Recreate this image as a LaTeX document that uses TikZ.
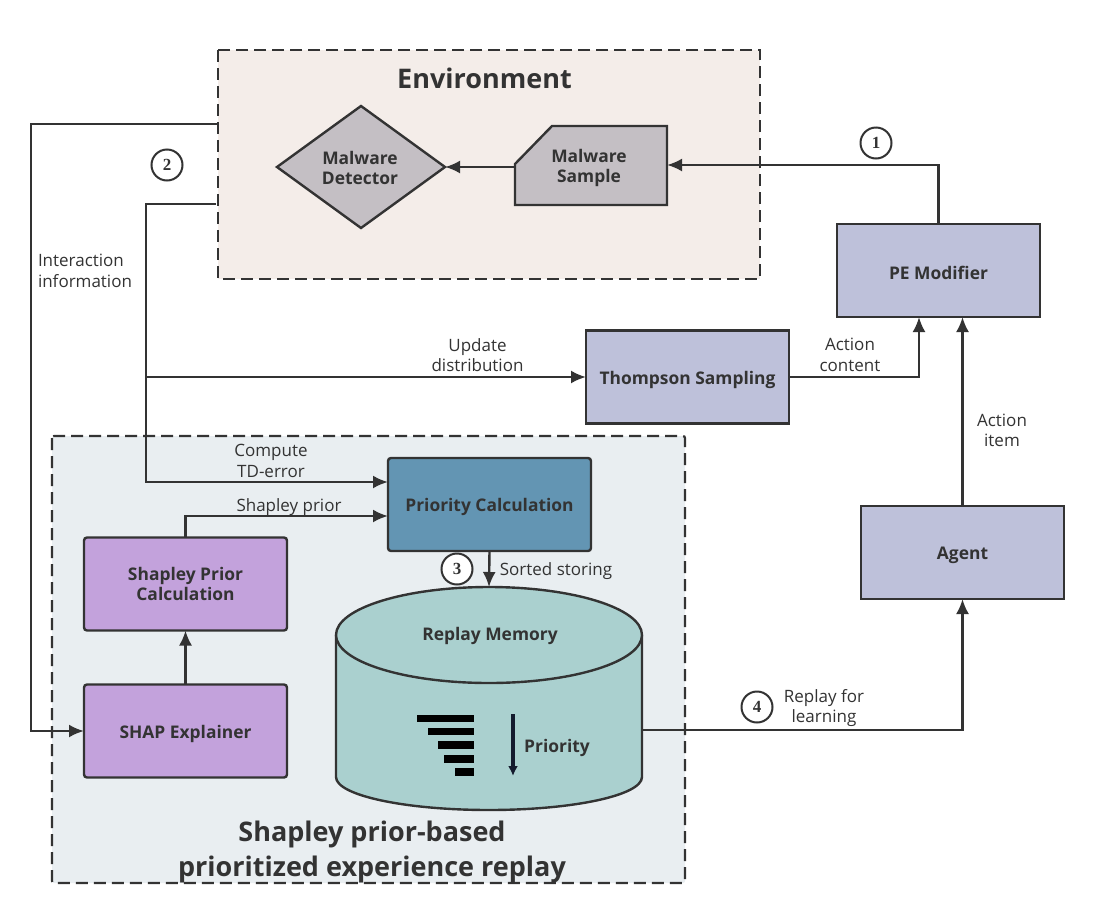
\documentclass[tikz,border=0pt]{standalone}
\usepackage{fontspec}
\setmainfont{Open Sans}
\newfontfamily\numfont{Liberation Serif}
\usetikzlibrary{arrows.meta,shapes.geometric,calc}
\definecolor{ink}{HTML}{333333}
\definecolor{envfill}{HTML}{F4EDE9}
\definecolor{repfill}{HTML}{E9EEF1}
\definecolor{greyfill}{HTML}{C4BFC4}
\definecolor{lavfill}{HTML}{BEC1DA}
\definecolor{prifill}{HTML}{6395B3}
\definecolor{purfill}{HTML}{C3A2DC}
\definecolor{memfill}{HTML}{AAD0CF}
\definecolor{navy}{HTML}{141B2E}
\newcommand{\lowtext}[1]{\raisebox{-2.5pt}[\height][\depth]{#1}}
\tikzset{
  x=1pt,y=-1pt,
  every node/.style={text=ink,align=center,inner sep=0pt,outer sep=0pt},
  region/.style={draw=ink,line width=2.2pt,dash pattern=on 12pt off 6pt},
  boxbase/.style={draw=ink,line width=2.4pt,rectangle,minimum width=203pt,minimum height=93pt,font=\fontsize{17.4}{20}\selectfont\bfseries},
  lavbox/.style={boxbase,fill=lavfill},
  purbox/.style={boxbase,fill=purfill,rounded corners=3pt},
  pribox/.style={boxbase,fill=prifill,rounded corners=3pt},
  link/.style={draw=ink,line width=2.4pt},
  arrowlink/.style={link,-{Latex[length=15pt,width=13pt]}},
  lbl/.style={font=\fontsize{17}{20.5}\selectfont},
  bold/.style={font=\fontsize{17.4}{20.5}\selectfont\bfseries},
  big/.style={font=\fontsize{27}{35}\selectfont\bfseries},
  stepnum/.style={circle,draw=ink,line width=2pt,fill=white,minimum size=31pt,font=\numfont\fontsize{17}{17}\selectfont\bfseries},
}
\begin{document}
\begin{tikzpicture}
\useasboundingbox (0,0) rectangle (1109,919);
\fill[white] (0,0) rectangle (1109,919);
% regions
\path[region,fill=envfill] (218,50) rectangle (760,279);
\path[region,fill=repfill,rounded corners=2pt] (52,436) rectangle (685,883);
\node[big] at (484.5,78) {Environment};
\node[big] at (372,852) {Shapley prior-based\\prioritized experience replay};
% coordinates
\coordinate (envA) at (218,124);
\coordinate (envB) at (216,204);
\coordinate (cornerA) at (31,124);
\coordinate (cornerA2) at (31,731);
\coordinate (cornerB) at (146,204);
\coordinate (branch) at (146,377);
\coordinate (cornerB2) at (146,482);
% environment shapes
\node[diamond,draw=ink,line width=2.4pt,fill=greyfill,aspect=1.377,minimum width=168pt,minimum height=122pt] (det) at (361,167) {};
\node[bold] at (360,168) {Malware\\Detector};
\draw[draw=ink,line width=2.4pt,fill=greyfill] (552,126) -- (667,126) -- (667,205) -- (515,205) -- (515,164) -- cycle;
\node[minimum width=152pt,minimum height=79pt] (samp) at (591,165.5) {};
\node[bold] at (589,168) {Malware\\Sample};
% boxes
\node[lavbox] (pe) at (938.5,270.5) {\lowtext{PE Modifier}};
\node[lavbox] (ts) at (687.5,377) {\lowtext{Thompson Sampling}};
\node[lavbox] (agent) at (962.5,552.5) {\lowtext{Agent}};
\node[pribox] (pri) at (489.5,504.5) {\lowtext{Priority Calculation}};
\node[purbox] (spc) at (185.5,584) {Shapley Prior\\Calculation};
\node[purbox] (shap) at (185.5,731) {\lowtext{SHAP Explainer}};
% memory cylinder
\draw[draw=ink,line width=2.4pt,fill=memfill] (336,635) -- (336,777) arc[start angle=180,end angle=360,x radius=153,y radius=-33] -- (642,635);
\draw[draw=ink,line width=2.4pt,fill=memfill] (489,635) ellipse [x radius=153,y radius=48];
\node[minimum width=306pt,minimum height=223pt] (mem) at (489,698.5) {};
\node[bold] at (490,636) {Replay Memory};
\fill[black] (416.7,714.5) rectangle (474,722);
\fill[black] (427.5,727.5) rectangle (474,735);
\fill[black] (437.5,741) rectangle (474,748.5);
\fill[black] (444,755) rectangle (474,762.5);
\fill[black] (455,768) rectangle (474,775.5);
\coordinate (prioTop) at (513,714);
\coordinate (prioEnd) at (513,776);
\draw[draw=navy,line width=3.4pt,-{Latex[length=10pt,width=10pt]}] (prioTop) -- (prioEnd);
\node[bold] at (557,748) {Priority};
% connectors
\draw[arrowlink] (envA) -- (cornerA) -- (cornerA2) -- (shap.west);
\draw[arrowlink] (envB) -- (cornerB) -- (cornerB2) -- (pri.west |- cornerB2);
\draw[arrowlink] (branch) -- (ts.west);
\draw[arrowlink] (spc.north) |- ($(pri.west)+(0,11.5)$);
\draw[arrowlink] (shap.north) -- (spc.south);
\draw[arrowlink] (pri.south) -- (mem.north);
\draw[arrowlink] (mem.east |- 0,730) -| (agent.south);
\draw[arrowlink] (agent.north) -- (agent.north |- pe.south);
\draw[arrowlink] (ts.east) -| (pe.south -| 919,0);
\draw[arrowlink] (pe.north) |- (samp.east |- 0,165);
\draw[arrowlink] (samp.west |- det.east) -- (det.east);
% labels
\node[lbl,align=left,anchor=west] at (38,271) {Interaction\\information};
\node[lbl] at (477.5,355) {Update\\distribution};
\node[lbl] at (850,355) {Action\\content};
\node[lbl] at (1002,430.5) {Action\\item};
\node[lbl] at (271,461) {Compute\\TD-error};
\node[lbl] at (289,507) {Shapley prior};
\node[lbl] at (556,571) {Sorted storing};
\node[lbl] at (824,708) {Replay for\\learning};
% step markers
\node[stepnum] (n1) at (876,143) {1};
\node[stepnum] (n2) at (167,165) {2};
\node[stepnum] (n3) at (457,569) {3};
\node[stepnum] (n4) at (757,707) {4};
\end{tikzpicture}
\end{document}
